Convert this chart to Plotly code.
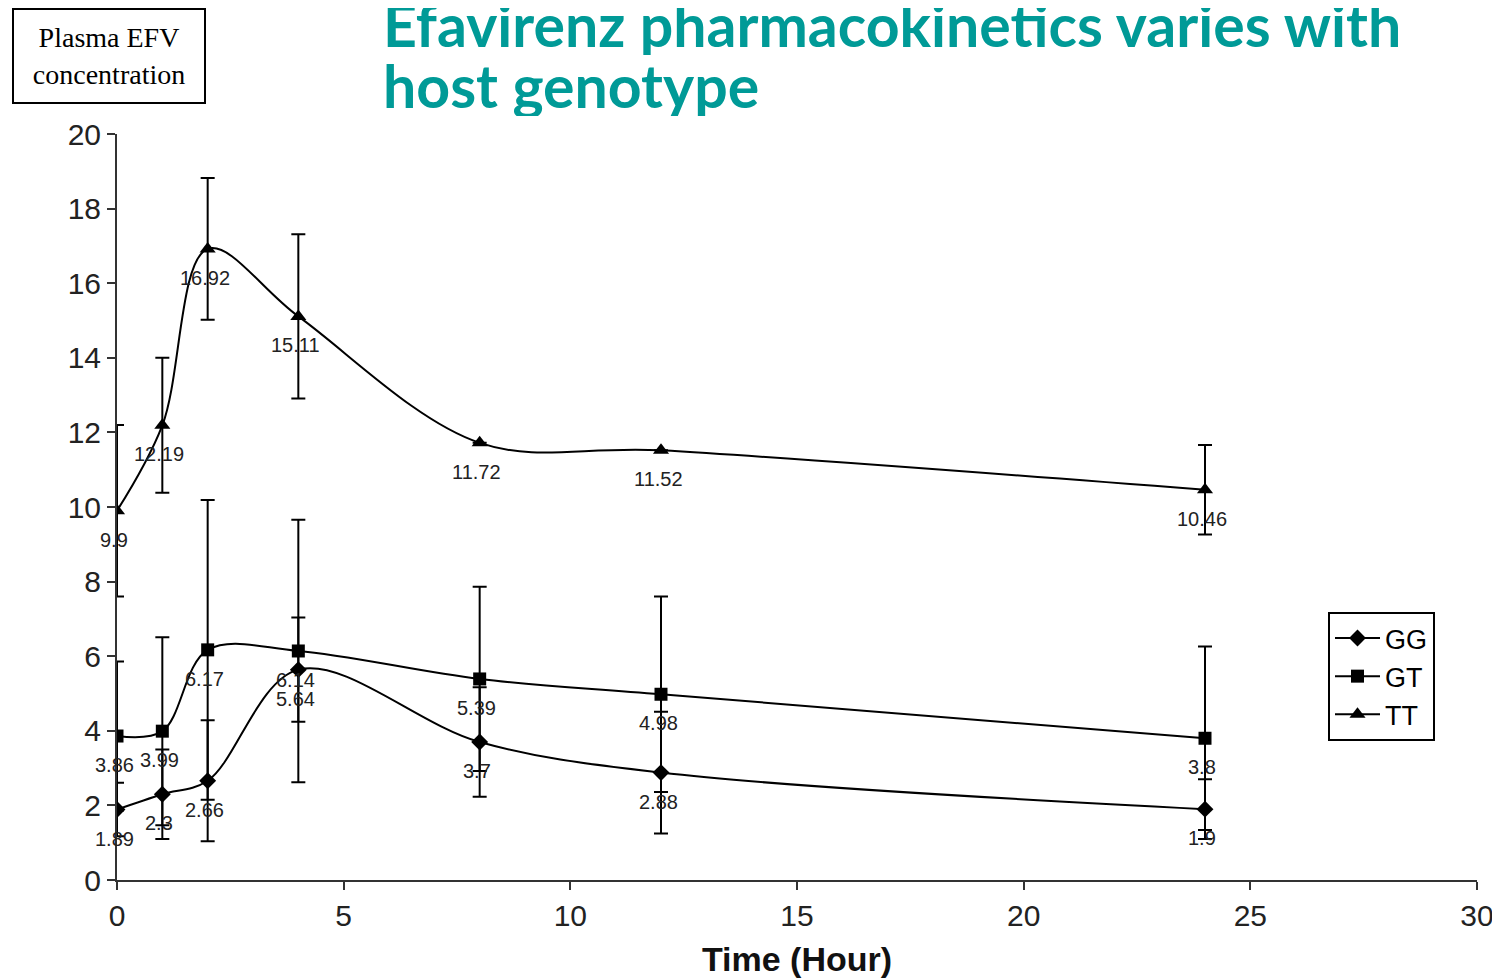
import plotly.graph_objects as go

time = [0, 1, 2, 4, 8, 12, 24]
gg = [1.89, 2.3, 2.66, 5.64, 3.7, 2.88, 1.9]
gt = [3.86, 3.99, 6.17, 6.14, 5.39, 4.98, 3.8]
tt = [9.9, 12.19, 16.92, 15.11, 11.72, 11.52, 10.46]
gg_err = [0.72, 1.2, 1.62, 1.4, 1.47, 1.63, 0.8]
gt_err = [2.0, 2.52, 4.02, 3.52, 2.47, 2.62, 2.46]
tt_err = [2.3, 1.81, 1.9, 2.2, 0.0, 0.0, 1.2]

series = [
    ("GG", gg, gg_err, "diamond", 13),
    ("GT", gt, gt_err, "square", 13),
    ("TT", tt, tt_err, "triangle-up", 14),
]

# page has an 8px body margin, so figure coords = page coords - 8
OFF = 8
W, H = 1500 - OFF, 978 - OFF
# plot area in page pixels: x 117..1477, y 134..880
PL, PR, PT, PB = 117 - OFF, 1477 - OFF, 134 - OFF, 880 - OFF


def px_x(p):
    return (p - OFF - PL) / float(PR - PL)


def px_y(p):
    return (PB - (p - OFF)) / float(PB - PT)


fig = go.Figure()
annotations = []
for name, vals, errs, sym, size in series:
    fig.add_trace(go.Scatter(
        x=time, y=vals, name=name, mode="lines+markers",
        line=dict(color="black", width=2, shape="spline", smoothing=1.0),
        marker=dict(symbol=sym, size=size, color="black"),
        error_y=dict(type="data", array=errs, visible=True, color="black",
                     thickness=2, width=7),
    ))
    for t, v in zip(time, vals):
        annotations.append(dict(
            x=t, y=v, xref="x", yref="y", text=str(v), showarrow=False,
            yshift=-29, xshift=-3,
            font=dict(family="Liberation Sans, Arial", size=20, color="#222"),
        ))

annotations.append(dict(
    xref="paper", yref="paper", x=px_x(12), y=px_y(8),
    xanchor="left", yanchor="top", showarrow=False,
    text="Plasma EFV<br>concentration",
    font=dict(family="Liberation Serif, Times New Roman", size=28, color="black"),
    bordercolor="black", borderwidth=2, borderpad=8, bgcolor="white",
    align="center", width=174, height=76,
))
title_lines = ["Efavirenz pharmacokinetics varies with", "host genotype"]
for line, top in zip(title_lines, [-8, 53]):
    annotations.append(dict(
        xref="paper", yref="paper", x=px_x(381), y=px_y(top),
        xanchor="left", yanchor="top", showarrow=False,
        text=line, height=61, valign="middle",
        font=dict(family="Lato", size=59, color="#009a97", weight="bold"),
        align="left",
    ))

fig.update_layout(
    width=W, height=H,
    margin=dict(l=PL, r=W - PR, t=PT, b=H - PB, autoexpand=False),
    paper_bgcolor="white", plot_bgcolor="white",
    showlegend=True,
    legend=dict(
        x=px_x(1328), y=px_y(612), xanchor="left", yanchor="top",
        bordercolor="black", borderwidth=2, bgcolor="white",
        font=dict(family="Liberation Sans, Arial", size=27, color="black"),
        tracegroupgap=0, itemwidth=45,
    ),
    xaxis=dict(
        range=[0, 30], tickmode="linear", tick0=0, dtick=5, automargin=False,
        showgrid=False, zeroline=False, showline=True, linecolor="#333",
        linewidth=2, ticks="outside", ticklen=8, tickwidth=2, tickcolor="#333",
        tickfont=dict(family="Liberation Sans, Arial", size=30, color="#222"),
        title=dict(text="<b>Time (Hour)</b>", standoff=16,
                   font=dict(family="Liberation Sans Narrow, Liberation Sans, Arial",
                             size=34, color="#111")),
    ),
    yaxis=dict(
        range=[0, 20], tickmode="linear", tick0=0, dtick=2, automargin=False,
        showgrid=False, zeroline=False, showline=True, linecolor="#333",
        linewidth=2, ticks="outside", ticklen=8, tickwidth=2, tickcolor="#333",
        tickfont=dict(family="Liberation Sans, Arial", size=30, color="#222"),
    ),
    annotations=annotations,
)

fig.write_html("out.html")
